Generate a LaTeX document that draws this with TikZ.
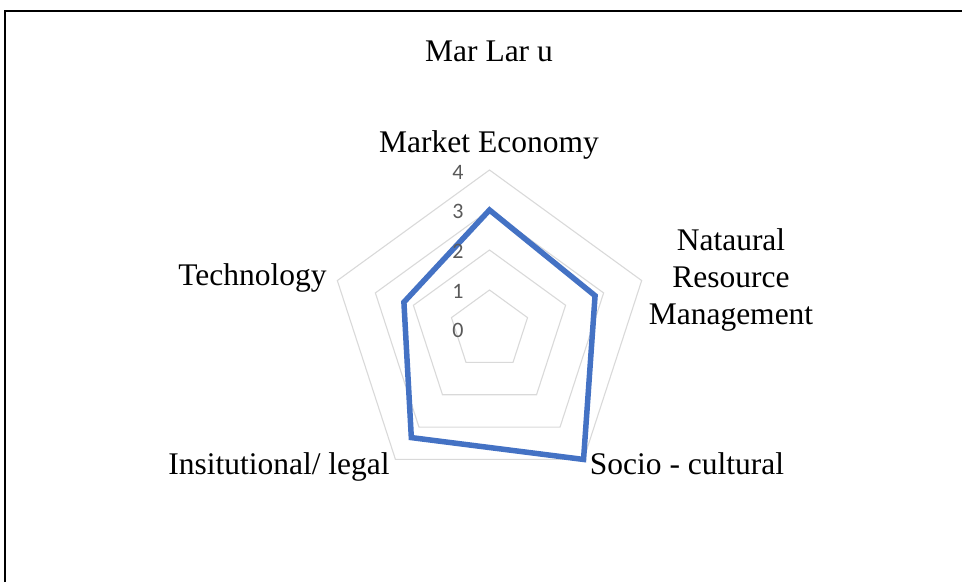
\documentclass[tikz,border=0pt]{standalone}
\usepackage{fontspec}
\usetikzlibrary{calc}
\setmainfont{Liberation Serif}
\newfontfamily\numfont{Carlito}
\definecolor{gridgray}{HTML}{D9D9D9}
\definecolor{serieblue}{HTML}{4472C4}
\definecolor{numgray}{HTML}{595959}
\tikzset{
  frameline/.style={line width=1.4pt, black},
  gridline/.style={line width=1.1pt, gridgray},
  dataline/.style={line width=5.5pt, serieblue, line join=miter},
  axlabel/.style={inner sep=0pt, font=\fontsize{31.5}{36.5}\selectfont, text=black},
  ticklabel/.style={inner sep=0pt, font=\numfont\fontsize{22}{26}\selectfont, text=numgray}
}
\begin{document}
\begin{tikzpicture}[x=1pt,y=1pt]
\useasboundingbox (0,0) rectangle (962,582);
% frame
\draw[frameline] (5,0) -- (5,571) -- (962,571);
% center
\coordinate (c) at (489.5,252);
% grid pentagons
\foreach \k in {1,2,3,4}{
  \draw[gridline] ($(c)+(90:{40*\k})$) -- ($(c)+(18:{40*\k})$) -- ($(c)+(-54:{40*\k})$)
     -- ($(c)+(-126:{40*\k})$) -- ($(c)+(162:{40*\k})$) -- cycle;
}
% data
\coordinate (pME) at ($(c)+(90:120)$);
\coordinate (pNR) at ($(c)+(18:111)$);
\coordinate (pSC) at ($(c)+(-54:160)$);
\coordinate (pIL) at ($(c)+(-126:133)$);
\coordinate (pTE) at ($(c)+(162:90)$);
\draw[dataline] (pME) -- (pNR) -- (pSC) -- (pIL) -- (pTE) -- cycle;
% tick labels
\node[ticklabel] (t0) at (458,252) {0};
\node[ticklabel] (t1) at (458,291) {1};
\node[ticklabel] (t2) at (458,331) {2};
\node[ticklabel] (t3) at (458,371) {3};
\node[ticklabel] (t4) at (458,410) {4};
% labels
\node[axlabel, anchor=base] (title) at (489,520) {Mar Lar u};
\node[axlabel, anchor=base] (lME) at (489,429) {Market Economy};
\node[axlabel, anchor=base, align=center] (lNR) at (731,258) {Nataural\\Resource\\Management};
\node[axlabel, anchor=base] (lTE) at (252.5,296) {Technology};
\node[axlabel, anchor=base] (lIL) at (279,108) {Insitutional/ legal};
\node[axlabel, anchor=base] (lSC) at (687,108) {Socio - cultural};
\end{tikzpicture}
\end{document}
